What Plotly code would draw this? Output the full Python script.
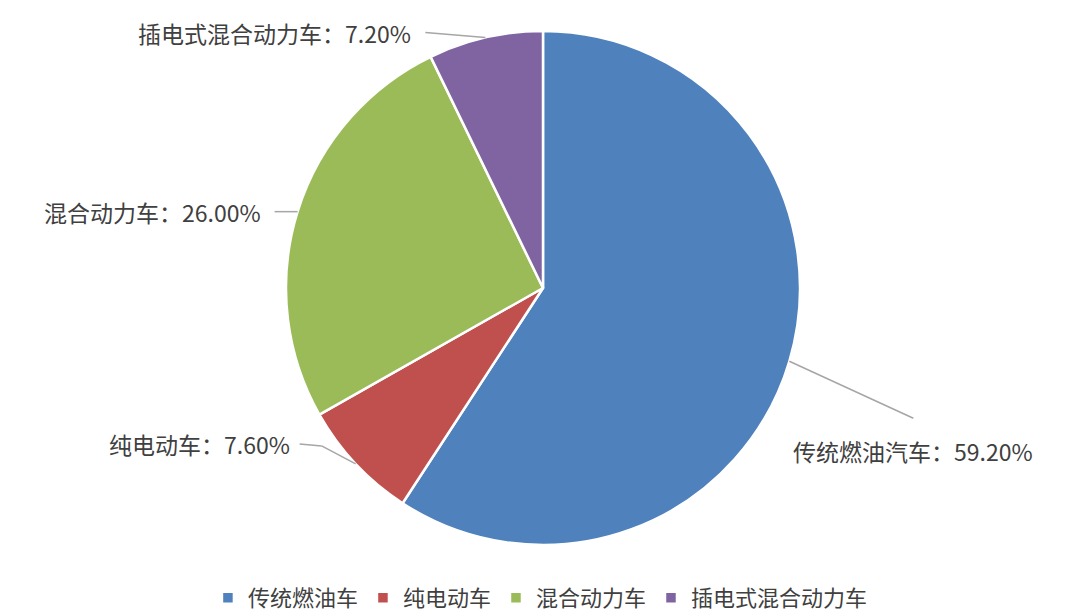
import numpy as np
import plotly.graph_objects as go

W, H = 1080, 611

legend_names = ["传统燃油车", "纯电动车", "混合动力车", "插电式混合动力车"]
label_names = ["传统燃油汽车", "纯电动车", "混合动力车", "插电式混合动力车"]
shares = [59.2, 7.6, 26.0, 7.2]
colors = ["#4F81BD", "#C0504D", "#9BBB59", "#8064A2"]

# pie geometry in figure pixels (page body adds an 8px margin)
cx, cy, r = 535, 280, 257

# leader line path offsets (px, relative to slice edge point) and label anchor side
leader_bends = [[(124, 57)], [(-34, -18), (-56, -20)], [(-23, 0)], [(-60, -5)]]
label_anchor = [("center", 0, 33), ("right", -8, 0), ("right", -12, 0), ("right", -12, 0)]


def to_paper(x, y):
    return x / W, 1 - y / H


fig = go.Figure()
fig.add_trace(
    go.Pie(
        labels=legend_names,
        values=shares,
        sort=False,
        direction="clockwise",
        rotation=0,
        marker=dict(colors=colors, line=dict(color="white", width=2.5)),
        textinfo="none",
        hoverinfo="label+percent",
        domain=dict(x=[(cx - r) / W, (cx + r) / W], y=[1 - (cy + r) / H, 1 - (cy - r) / H]),
    )
)

total = sum(shares)
cum = 0
for i, v in enumerate(shares):
    mid = (cum + v / 2) / total * 2 * np.pi
    cum += v
    ex, ey = cx + r * np.sin(mid), cy - r * np.cos(mid)
    pts = [(ex, ey)] + [(ex + dx, ey + dy) for dx, dy in leader_bends[i]]
    for (x0, y0), (x1, y1) in zip(pts[:-1], pts[1:]):
        px0, py0 = to_paper(x0, y0)
        px1, py1 = to_paper(x1, y1)
        fig.add_shape(
            type="line", xref="paper", yref="paper",
            x0=px0, y0=py0, x1=px1, y1=py1,
            line=dict(color="#A6A6A6", width=1.5),
        )
    side, ox, oy = label_anchor[i]
    lx, ly = pts[-1]
    tx, ty = to_paper(lx + ox, ly + oy)
    fig.add_annotation(
        xref="paper", yref="paper", x=tx, y=ty,
        xanchor=side, yanchor="middle", showarrow=False,
        text=f"{label_names[i]}：{v:.2f}%",
        font=dict(size=23, color="#404040"),
    )

fig.update_layout(
    width=W, height=H,
    margin=dict(l=0, r=0, t=0, b=0),
    paper_bgcolor="white",
    plot_bgcolor="white",
    font=dict(family="Noto Sans CJK SC, sans-serif", color="#404040"),
    legend=dict(
        orientation="h", x=0.493, xanchor="center", y=0.0, yanchor="bottom",
        font=dict(size=22, color="#404040"), itemwidth=30,
        traceorder="normal",
    ),
    showlegend=True,
)

fig.write_html("out.html")
